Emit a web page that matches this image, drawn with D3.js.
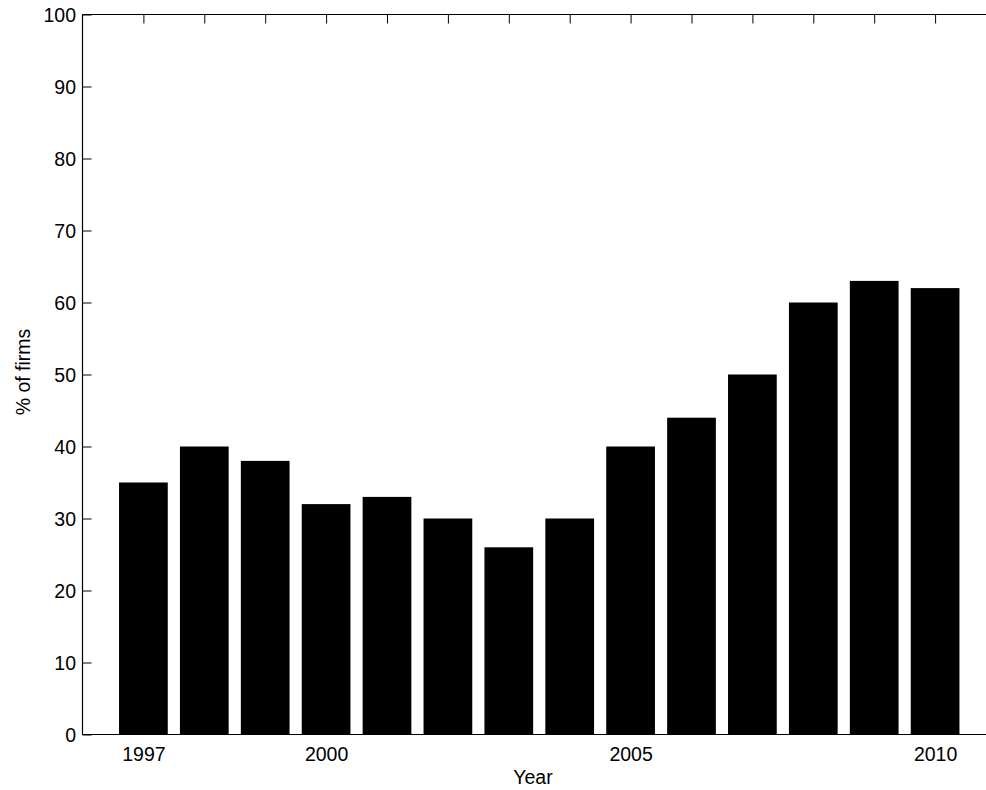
<!DOCTYPE html>
<html><head><meta charset="utf-8">
<script src="https://cdn.jsdelivr.net/npm/d3@7"></script>
<style>body{margin:0;background:#fff}svg{display:block}text{font-family:"Liberation Sans",Arial,sans-serif;fill:#000}</style>
</head><body>
<svg id="c" width="986" height="790"></svg>
<script>
const years = [1997,1998,1999,2000,2001,2002,2003,2004,2005,2006,2007,2008,2009,2010];
const values = [35,40,38,32,33,30,26,30,40,44,50,60,63,62];
const xTickLabels = {1997:"1997",2000:"2000",2005:"2005",2010:"2010"};
const yTicks = [0,10,20,30,40,50,60,70,80,90,100];

const svg = d3.select("#c");
const L = 82.5, T = 14.5, B = 734.5;
const FS = 19.5;
const x = d3.scaleLinear().domain([1996, 2011]).range([L, 996]);
const y = d3.scaleLinear().domain([0, 100]).range([B, T]);
const bw = (x(1998) - x(1997)) * 0.8;

// bottom ticks (inward)
svg.append("g").attr("transform", `translate(0,${B})`)
  .call(d3.axisBottom(x).tickValues(years).tickSizeInner(-9).tickSizeOuter(0).tickFormat(d => xTickLabels[d] || ""))
  .call(g => { g.select(".domain").remove(); g.selectAll("line").attr("stroke","#000");
    g.selectAll("text").attr("font-size", FS).attr("dy", null).attr("y", 26); });

// top ticks
svg.append("g").attr("transform", `translate(0,${T})`)
  .call(d3.axisTop(x).tickValues(years).tickSizeInner(-9).tickSizeOuter(0).tickFormat(""))
  .call(g => { g.select(".domain").remove(); g.selectAll("line").attr("stroke","#000"); });

// bars
svg.append("g").selectAll("rect").data(values).join("rect")
  .attr("x", (d,i) => x(years[i]) - bw/2)
  .attr("width", bw)
  .attr("y", d => y(d))
  .attr("height", d => B - y(d))
  .attr("fill", "#000");

// left axis
svg.append("g").attr("transform", `translate(${L},0)`)
  .call(d3.axisLeft(y).tickValues(yTicks).tickSizeInner(-9).tickSizeOuter(0))
  .call(g => { g.select(".domain").remove(); g.selectAll("line").attr("stroke","#000");
    g.selectAll("text").attr("font-size", FS).attr("x", -6.5).attr("dy", "0.35em"); });

// frame lines
svg.append("line").attr("x1", L).attr("x2", 986).attr("y1", T).attr("y2", T).attr("stroke","#000").attr("stroke-width",1.2);
svg.append("line").attr("x1", L).attr("x2", 986).attr("y1", B).attr("y2", B).attr("stroke","#000").attr("stroke-width",1.2);
svg.append("line").attr("x1", L).attr("x2", L).attr("y1", T).attr("y2", B).attr("stroke","#000").attr("stroke-width",1.2);

// axis labels
svg.append("text").attr("x", 533).attr("y", 784).attr("text-anchor","middle").attr("font-size", FS).text("Year");
svg.append("text").attr("transform", `translate(30,372) rotate(-90)`).attr("text-anchor","middle").attr("font-size", FS).text("% of firms");
</script>
</body></html>
